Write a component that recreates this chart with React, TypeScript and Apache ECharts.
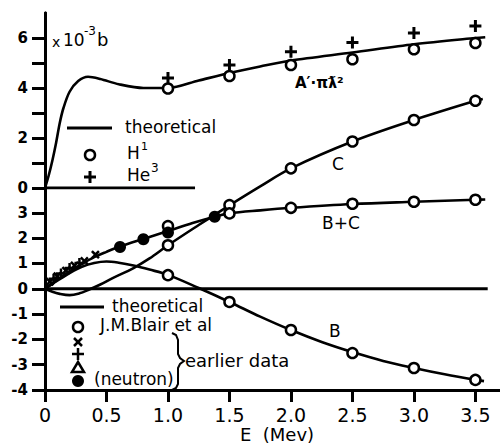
import React, { useEffect, useRef } from "react";
import * as echarts from "echarts";

// ---- axes ----
const xTicks = [0, 0.5, 1, 1.5, 2, 2.5, 3, 3.5];
const topYTicks = [0, 1, 2, 3, 4, 5, 6];
const topYLabels = [0, 2, 4, 6];
const bottomYTicks = [-4, -3, -2, -1, 0, 1, 2, 3];

// ---- top panel (A'·πƛ²) ----
const theoryTop: [number, number][] = [
  [0, 0], [0.03, 0.5], [0.06, 1.1], [0.09, 1.8], [0.12, 2.6], [0.15, 3.2], [0.2, 3.85],
  [0.27, 4.28], [0.35, 4.45], [0.45, 4.36], [0.6, 4.15], [0.8, 4.0], [1.0, 4.0],
  [1.25, 4.3], [1.5, 4.6], [1.75, 4.86], [2.0, 5.1], [2.5, 5.42], [3.0, 5.75], [3.5, 6.0], [3.58, 6.03],
];
const h1Top: [number, number][] = [[1.0, 3.98], [1.5, 4.48], [2.0, 4.92], [2.5, 5.15], [3.0, 5.55], [3.5, 5.8]];
const he3Top: [number, number][] = [[1.0, 4.4], [1.5, 4.92], [2.0, 5.45], [2.5, 5.82], [3.0, 6.2], [3.5, 6.48]];
const topZero: [number, number][] = [[0, 0], [1.22, 0]];

// ---- bottom panel ----
const theoryC: [number, number][] = [
  [0, 0], [0.06, -0.12], [0.12, -0.2], [0.2, -0.25], [0.28, -0.18], [0.35, -0.05], [0.45, 0.17],
  [0.55, 0.42], [0.72, 0.82], [0.85, 1.2], [1.0, 1.72], [1.25, 2.52], [1.5, 3.3], [1.75, 4.05],
  [2.0, 4.76], [2.5, 5.82], [3.0, 6.67], [3.5, 7.43], [3.56, 7.5],
];
const theoryB: [number, number][] = [
  [0, 0], [0.1, 0.32], [0.2, 0.62], [0.3, 0.87], [0.4, 1.02], [0.5, 1.08], [0.6, 1.03],
  [0.72, 0.92], [0.85, 0.76], [1.0, 0.55], [1.25, 0.03], [1.5, -0.52], [1.75, -1.1],
  [2.0, -1.63], [2.25, -2.1], [2.5, -2.5], [2.75, -2.85], [3.0, -3.13], [3.25, -3.38], [3.5, -3.6], [3.57, -3.65],
];
const theoryBC: [number, number][] = [
  [0, 0], [0.1, 0.35], [0.2, 0.68], [0.3, 0.98], [0.4, 1.25], [0.5, 1.46], [0.6, 1.65],
  [0.8, 1.97], [1.0, 2.28], [1.2, 2.6], [1.38, 2.85], [1.5, 2.98], [1.75, 3.1], [2.0, 3.2],
  [2.5, 3.35], [3.0, 3.44], [3.5, 3.52], [3.58, 3.53],
];
const blairC: [number, number][] = [[1.0, 1.72], [1.5, 3.31], [2.0, 4.76], [2.5, 5.82], [3.0, 6.67], [3.5, 7.43]];
const blairB: [number, number][] = [[1.0, 0.54], [1.5, -0.52], [2.0, -1.63], [2.5, -2.54], [3.0, -3.13], [3.5, -3.6]];
const blairBC: [number, number][] = [[1.0, 2.48], [1.5, 2.98], [2.0, 3.2], [2.5, 3.36], [3.0, 3.44], [3.5, 3.52]];
const neutron: [number, number][] = [[0.61, 1.65], [0.8, 1.96], [1.0, 2.22], [1.38, 2.85]];
const earlierX: [number, number][] = [[0.04, 0.28], [0.1, 0.5], [0.17, 0.72], [0.24, 0.92], [0.32, 1.1], [0.41, 1.35]];
const earlierPlus: [number, number][] = [[0.07, 0.4], [0.13, 0.6], [0.2, 0.82], [0.28, 1.02]];
const bottomZero: [number, number][] = [[0, 0], [3.6, 0]];

const PLUS = "path://M-1.25,-5H1.25V-1.25H5V1.25H1.25V5H-1.25V1.25H-5V-1.25H-1.25Z";
const FONT = "DejaVu Sans";
const BLACK = "#000";

export default function App() {
  const ref = useRef<HTMLDivElement>(null);
  useEffect(() => {
    if (!ref.current) return;
    const chart = echarts.init(ref.current, null, { renderer: "svg" });
    const axisLine = { show: true, onZero: false, lineStyle: { color: BLACK, width: 3 } };
    const tickStyle = { color: BLACK, width: 3 };
    const yLabel = { color: BLACK, fontSize: 15, fontWeight: "bold", fontFamily: FONT, margin: 17 };
    const curve = (data: [number, number][], xi: number, smooth = 0.35) => ({
      type: "line", xAxisIndex: xi, yAxisIndex: xi, data, smooth, symbol: "none",
      lineStyle: { color: BLACK, width: 2.6 }, silent: true,
    });
    const openCircles = (data: [number, number][], xi: number) => ({
      type: "scatter", xAxisIndex: xi, yAxisIndex: xi, data, symbol: "circle", symbolSize: 10,
      itemStyle: { color: "#fff", borderColor: BLACK, borderWidth: 2.5, opacity: 1 }, z: 5,
    });
    const solid = (data: [number, number][], symbol: string, size: number, rotate = 0) => ({
      type: "scatter", xAxisIndex: 1, yAxisIndex: 1, data, symbol, symbolSize: size, symbolRotate: rotate,
      itemStyle: { color: BLACK, opacity: 1 }, z: 6,
    });
    const txt = (text: string, x: number, y: number, fontSize = 17, extra: any = {}) => ({
      type: "text", x, y, silent: true,
      style: { text, fontSize, fontFamily: FONT, fill: BLACK, align: "left", verticalAlign: "middle", ...extra },
    });
    const ln = (x1: number, y1: number, x2: number, y2: number, w = 3) => ({
      type: "line", silent: true, shape: { x1, y1, x2, y2 }, style: { stroke: BLACK, lineWidth: w },
    });

    const option: any = {
      animation: false,
      backgroundColor: "#fff",
      grid: [
        { left: 45, top: 13, width: 455, height: 175 },
        { left: 45, top: 13, width: 455, height: 377 },
      ],
      xAxis: [
        { gridIndex: 0, type: "value", min: 0, max: 3.7, show: false },
        {
          gridIndex: 1, type: "value", min: 0, max: 3.7, position: "bottom",
          axisLine,
          axisTick: { show: true, inside: false, length: 12, lineStyle: tickStyle, customValues: xTicks },
          axisLabel: {
            customValues: xTicks, color: BLACK, fontSize: 19, fontFamily: FONT, margin: 15,
            formatter: (v: number) => (v === 0 ? "0" : v.toFixed(1)),
          },
          splitLine: { show: false },
        },
      ],
      yAxis: [
        {
          gridIndex: 0, type: "value", min: 0, max: 7, axisLine,
          axisTick: { show: true, length: 13, lineStyle: tickStyle, customValues: topYTicks },
          axisLabel: { ...yLabel, customValues: topYLabels },
          splitLine: { show: false },
        },
        {
          gridIndex: 1, type: "value", min: -4, max: 10.9, axisLine,
          axisTick: { show: true, length: 13, lineStyle: tickStyle, customValues: bottomYTicks },
          axisLabel: { ...yLabel, customValues: bottomYTicks },
          splitLine: { show: false },
        },
      ],
      series: [
        curve(theoryTop, 0, 0.3),
        { ...curve(topZero, 0, 0), lineStyle: { color: BLACK, width: 3 } },
        openCircles(h1Top, 0),
        { type: "scatter", xAxisIndex: 0, yAxisIndex: 0, data: he3Top, symbol: PLUS, symbolSize: 12, itemStyle: { color: BLACK, opacity: 1 }, z: 5 },
        curve(theoryC, 1),
        curve(theoryB, 1),
        curve(theoryBC, 1),
        { ...curve(bottomZero, 1, 0), lineStyle: { color: BLACK, width: 3 } },
        openCircles(blairC, 1),
        openCircles(blairB, 1),
        openCircles(blairBC, 1),
        solid(neutron, "circle", 12),
        solid(earlierX, PLUS, 10, 45),
        solid(earlierPlus, PLUS, 10),
      ],
      graphic: [
        txt("x", 52, 42, 14),
        txt("10", 63, 40, 17),
        txt("-3", 84, 31, 12),
        txt("b", 97, 39, 18),
        ln(67, 128, 112, 128),
        txt("theoretical", 125, 127, 17),
        { type: "circle", silent: true, shape: { cx: 90, cy: 155, r: 5 }, style: { fill: "#fff", stroke: BLACK, lineWidth: 2.5 } },
        txt("H", 127, 153, 17),
        txt("1", 141, 146, 11),
        ln(84, 177, 96, 177),
        ln(90, 171, 90, 183),
        txt("He", 127, 175, 17),
        txt("3", 151, 168, 12),
        txt("A\u2032\u00b7\u03c0\u019b\u00b2", 295, 83, 15, { fontWeight: "bold" }),
        txt("C", 332, 164, 17),
        txt("B+C", 322, 223, 17),
        txt("B", 329, 331, 17),
        ln(60, 307, 104, 307),
        txt("theoretical", 112, 306, 17),
        { type: "circle", silent: true, shape: { cx: 78, cy: 327, r: 5 }, style: { fill: "#fff", stroke: BLACK, lineWidth: 2.5 } },
        txt("J.M.Blair et al", 100, 325, 17),
        ln(74, 338, 82, 346, 2.5),
        ln(82, 338, 74, 346, 2.5),
        ln(72, 354, 84, 354, 2.5),
        ln(78, 348, 78, 360, 2.5),
        { type: "polygon", silent: true, shape: { points: [[78, 362], [84, 372], [72, 372]] }, style: { fill: "none", stroke: BLACK, lineWidth: 2.5 } },
        { type: "circle", silent: true, shape: { cx: 78, cy: 381, r: 6 }, style: { fill: BLACK } },
        txt("(neutron)", 94, 379, 17),
        {
          type: "polyline", silent: true,
          shape: { points: [[172, 333], [176, 335], [178, 340], [178, 354], [180, 358], [184, 361], [180, 364], [178, 368], [178, 384], [176, 388], [172, 390]] },
          style: { stroke: BLACK, lineWidth: 2, fill: "none" },
        },
        txt("earlier data", 185, 360, 18),
        txt("E  (Mev)", 240, 434, 18),
      ],
    };
    chart.setOption(option);
    return () => chart.dispose();
  }, []);
  return <div ref={ref} style={{ position: "absolute", left: 0, top: 0, width: 500, height: 443 }} />;
}
